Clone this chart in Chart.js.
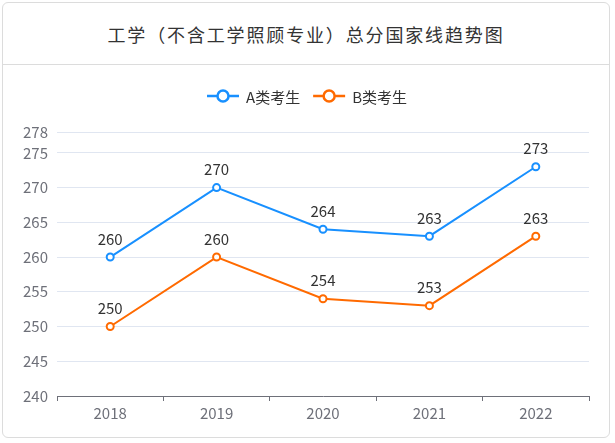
<!DOCTYPE html>
<html>
<head>
<meta charset="utf-8">
<script src="https://cdn.jsdelivr.net/npm/chart.js@4"></script>
<style>
  html, body { margin: 0; padding: 0; background: #fff; }
  #wrap { position: relative; width: 615px; height: 443px; overflow: hidden; }
  #card {
    position: absolute; left: 2px; top: 2px; width: 608px; height: 436px;
    border: 1px solid #dcdcdc; border-radius: 6px; box-sizing: border-box;
  }
  #title {
    position: absolute; left: 0; top: 18px; width: 100%; text-align: center;
    font: 18px "Noto Sans CJK SC", sans-serif; color: #333; letter-spacing: 1.85px;
    line-height: 26px;
  }
  #divider { position: absolute; left: 0; right: 0; top: 61px; border-top: 1px solid #dcdcdc; }
  #c { position: absolute; left: 0; top: 0; }
</style>
</head>
<body>
<div id="wrap">
  <div id="card">
    <div id="title">工学（不含工学照顾专业）总分国家线趋势图</div>
    <div id="divider"></div>
  </div>
  <canvas id="c" width="615" height="443"></canvas>
</div>
<script>
// ---- data ----
const years = ["2018", "2019", "2020", "2021", "2022"];
const scoreA = [260, 270, 264, 263, 273];
const scoreB = [250, 260, 254, 253, 263];
const yTicks = [240, 245, 250, 255, 260, 265, 270, 275, 278];
const names = ["A类考生", "B类考生"];
const colors = ["#1890ff", "#ff6a00"];

const FONT = '"Noto Sans CJK SC", "Noto Sans", sans-serif';

// labels above each point
const pointLabels = {
  id: "pointLabels",
  afterDatasetsDraw(chart) {
    const ctx = chart.ctx;
    ctx.save();
    ctx.font = "15px " + FONT;
    ctx.fillStyle = "#333";
    ctx.textAlign = "center";
    ctx.textBaseline = "middle";
    chart.data.datasets.forEach((ds, i) => {
      chart.getDatasetMeta(i).data.forEach((pt, j) => {
        ctx.fillText(ds.data[j], pt.x, pt.y - 18);
      });
    });
    ctx.restore();
  }
};

// echarts-like legend: line + hollow circle
const lineLegend = {
  id: "lineLegend",
  afterDraw(chart) {
    const ctx = chart.ctx;
    ctx.save();
    ctx.font = "15px " + FONT;
    const iconW = 32, gap = 7, itemGap = 13, y = 96;
    const widths = chart.data.datasets.map(ds => iconW + gap + ctx.measureText(ds.label).width);
    const total = widths.reduce((a, b) => a + b, 0) + itemGap * (widths.length - 1);
    let x = 307 - total / 2;
    chart.data.datasets.forEach((ds, i) => {
      ctx.strokeStyle = ds.borderColor;
      ctx.lineWidth = 2.5;
      ctx.beginPath();
      ctx.moveTo(x, y);
      ctx.lineTo(x + iconW, y);
      ctx.stroke();
      ctx.beginPath();
      ctx.arc(x + iconW / 2, y, 5.5, 0, Math.PI * 2);
      ctx.fillStyle = "#fff";
      ctx.fill();
      ctx.lineWidth = 2.5;
      ctx.stroke();
      ctx.fillStyle = "#333";
      ctx.textAlign = "left";
      ctx.textBaseline = "middle";
      ctx.fillText(ds.label, x + iconW + gap, y + 1);
      x += widths[i] + itemGap;
    });
    ctx.restore();
  }
};

const makeSet = (label, data, color) => ({
  label, data,
  borderColor: color,
  backgroundColor: "#fff",
  borderWidth: 2,
  pointRadius: 3.5,
  pointBorderWidth: 2,
  pointBackgroundColor: "#fff",
  pointBorderColor: color,
  tension: 0
});

new Chart(document.getElementById("c"), {
  type: "line",
  data: {
    labels: years,
    datasets: [
      makeSet(names[0], scoreA, colors[0]),
      makeSet(names[1], scoreB, colors[1])
    ]
  },
  options: {
    responsive: false,
    animation: false,
    layout: { padding: { top: 132, right: 26, bottom: 17, left: 0 } },
    plugins: { legend: { display: false }, tooltip: { enabled: false } },
    scales: {
      x: {
        offset: true,
        afterFit(s) { s.height = 30; },
        grid: { drawOnChartArea: false, drawTicks: true, tickLength: 5, color: "#6e7079", offset: true },
        border: { display: true, color: "#6e7079", width: 1 },
        ticks: { color: "#6e7079", font: { size: 15, family: FONT }, padding: 3 }
      },
      y: {
        min: 240, max: 278,
        afterFit(s) { s.width = 57; },
        afterBuildTicks(s) { s.ticks = yTicks.map(v => ({ value: v })); },
        grid: { color: "#e0e6f1", drawTicks: false },
        border: { display: false },
        ticks: { color: "#6e7079", font: { size: 15, family: FONT }, padding: 9, autoSkip: false }
      }
    }
  },
  plugins: [pointLabels, lineLegend]
});
</script>
</body>
</html>
